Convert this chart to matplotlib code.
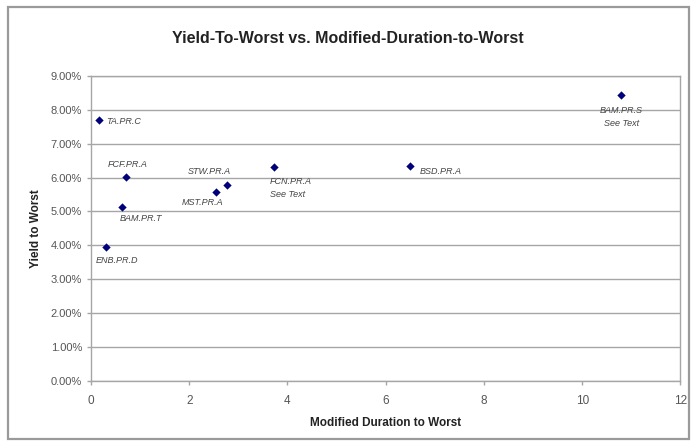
import matplotlib
matplotlib.use("Agg")
import matplotlib.pyplot as plt
from matplotlib.patches import Rectangle
from matplotlib.ticker import FuncFormatter

plt.rcParams.update({"font.family": "sans-serif", "font.sans-serif": ["Liberation Sans", "DejaVu Sans"]})

names = ["TA.PR.C", "FCF.PR.A", "BAM.PR.T", "ENB.PR.D", "MST.PR.A", "STW.PR.A", "FCN.PR.A\nSee Text",
         "BSD.PR.A", "BAM.PR.S\nSee Text"]
duration = [0.16, 0.72, 0.64, 0.30, 2.55, 2.77, 3.73, 6.50, 10.80]
ytw = [7.69, 6.02, 5.14, 3.94, 5.57, 5.79, 6.31, 6.33, 8.44]
# label offsets (points) and alignment
offsets = [(5, -1, "left", "center"), (1, 6, "center", "bottom"), (-2, -5, "left", "top"),
           (-7, -6, "left", "top"), (5, -4, "right", "top"), (3, 6, "right", "bottom"),
           (-3, -7, "left", "top"), (7, -4, "left", "center"), (0, -8, "center", "top")]

INK, GRID, NAVY = "#222222", "#a6a6a6", "#00007a"

fig = plt.figure(figsize=(6.95, 4.44), dpi=100)
fig.patches.append(Rectangle((0.012, 0.012), 0.98, 0.972, transform=fig.transFigure, fill=False,
                             ec="#9a9a9a", lw=1.6))
ax = fig.add_axes([0.131, 0.142, 0.848, 0.687])

ax.scatter(duration, ytw, s=18, marker="D", color=NAVY, zorder=3, linewidths=0)
for nm, x, y, (dx, dy, ha, va) in zip(names, duration, ytw, offsets):
    ax.annotate(nm, (x, y), xytext=(dx, dy), textcoords="offset points", ha=ha, va=va,
                fontsize=6.5, style="italic", color="#444444", linespacing=1.6)

ax.set_xlim(0, 12); ax.set_ylim(0, 9)
ax.set_xticks(range(0, 13, 2)); ax.set_yticks(range(0, 10))
ax.yaxis.set_major_formatter(FuncFormatter(lambda v, p: f"{v:.2f}%"))
ax.grid(axis="y", color=GRID, lw=1.0)
ax.set_axisbelow(True)
for s in ax.spines.values():
    s.set_color(GRID); s.set_linewidth(1.0)
ax.tick_params(axis="both", colors=GRID, labelcolor="#555555", labelsize=8, length=3, width=1)
ax.tick_params(axis="x", labelsize=8.5, pad=7)

ax.set_xlabel("Modified Duration to Worst", fontsize=8.5, fontweight="bold", color=INK, labelpad=7)
ax.set_ylabel("Yield to Worst", fontsize=8.5, fontweight="bold", color=INK, labelpad=6)
fig.text(0.5, 0.913, "Yield-To-Worst vs. Modified-Duration-to-Worst", ha="center", va="center",
         fontsize=11.5, fontweight="bold", color=INK)

fig.savefig("out.png", dpi=100, facecolor="white")
